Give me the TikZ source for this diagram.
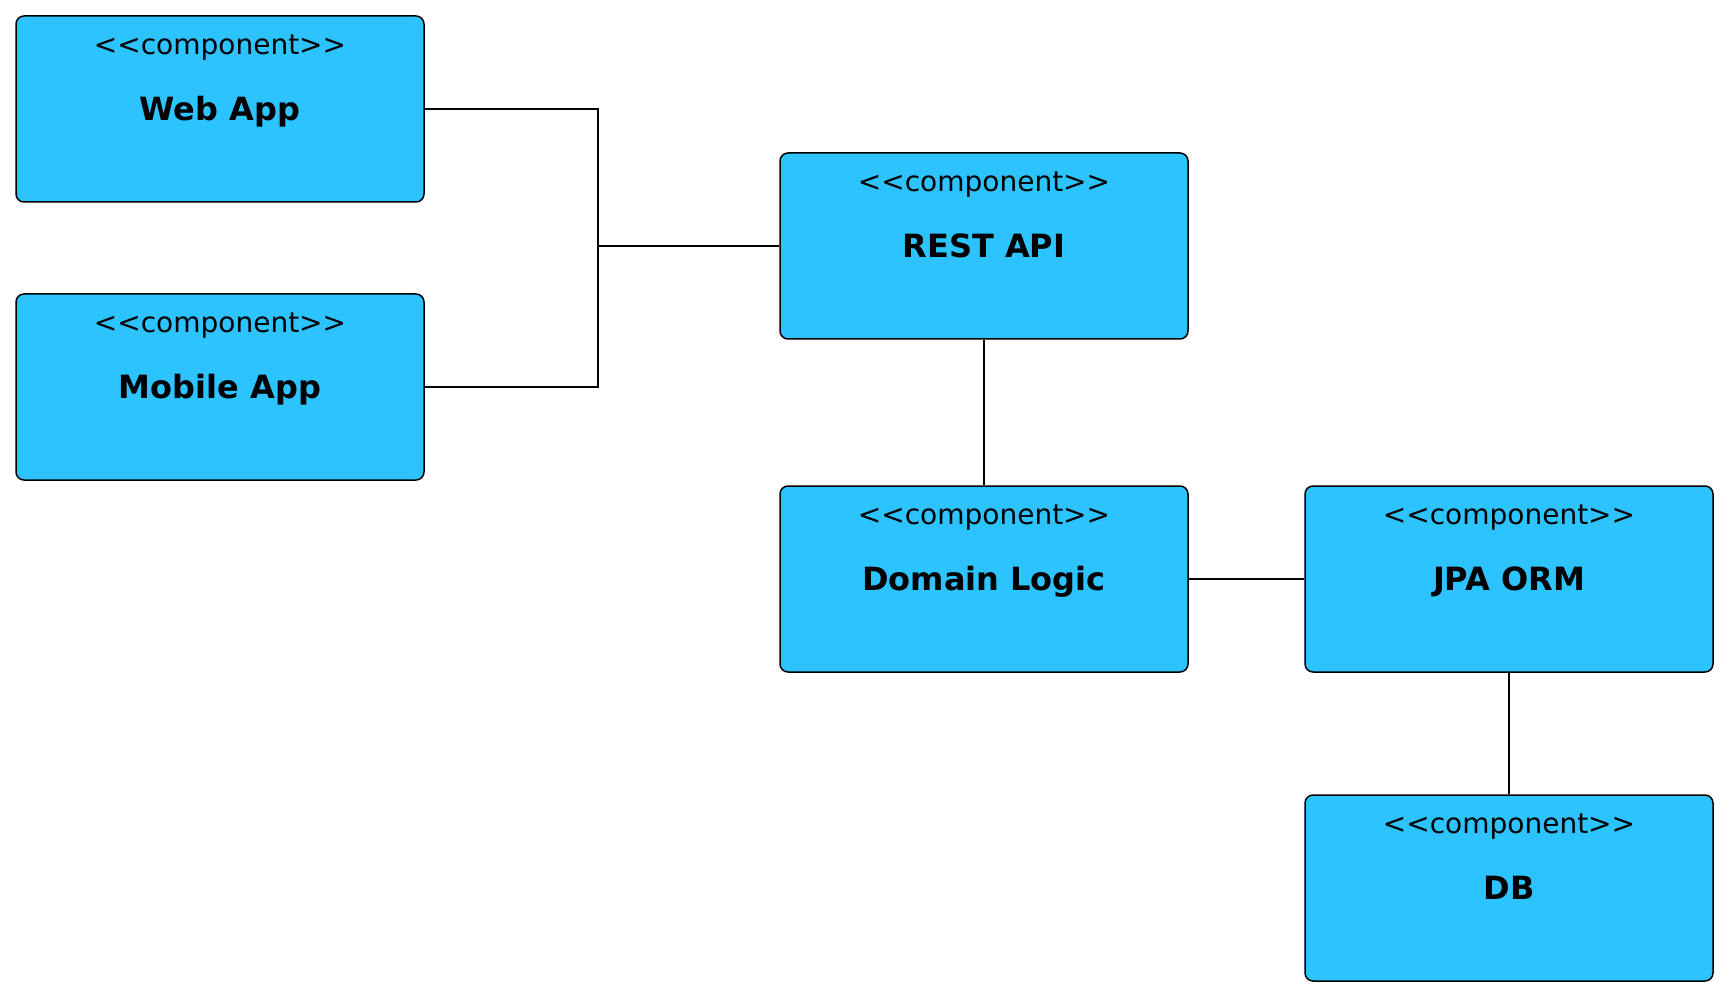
\documentclass[tikz,border=0pt]{standalone}
\usepackage{fontspec}
\setmainfont{DejaVu Sans}[Ligatures=TeXOff]
\usetikzlibrary{calc}
\definecolor{compblue}{RGB}{45,195,255}
\tikzset{
  comp/.style={draw=black, line width=1.5pt, fill=compblue, rounded corners=8pt,
    minimum width=408pt, minimum height=186pt, inner sep=0pt},
  ster/.style={anchor=base, font=\fontsize{28}{30}\selectfont, inner sep=0pt},
  ttl/.style={anchor=base, font=\fontsize{32}{34}\selectfont\bfseries, inner sep=0pt},
  conn/.style={draw=black, line width=1.5pt}
}
\newcommand{\compbox}[3]{%
  \node[comp] (#1) at (#2) {};
  \node[ster] (#1s) at ($(#1.north)+(0,39)$) {<<component>>};
  \node[ttl] (#1t) at ($(#1.north)+(0,105.5)$) {#3};
}
\begin{document}
\begin{tikzpicture}[x=1pt,y=-1pt]
\useasboundingbox (0,0) rectangle (1730,1000);
\compbox{web}{220,109}{Web App}
\compbox{mob}{220,387}{Mobile App}
\compbox{rest}{984,246}{REST API}
\compbox{dom}{984,579}{Domain Logic}
\compbox{jpa}{1509,579}{JPA ORM}
\compbox{db}{1509,888}{DB}
\coordinate (j) at (598,246);
\draw[conn] (web.east) -| (j) |- (mob.east);
\draw[conn] (j) -- (rest.west);
\draw[conn] (rest.south) -- (dom.north);
\draw[conn] (dom.east) -- (jpa.west);
\draw[conn] (jpa.south) -- (db.north);
\end{tikzpicture}
\end{document}
